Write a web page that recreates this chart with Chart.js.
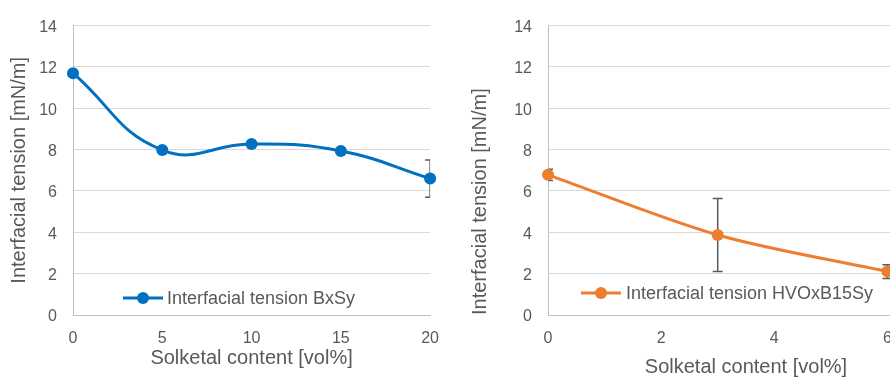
<!DOCTYPE html>
<html>
<head>
<meta charset="utf-8">
<script src="https://cdn.jsdelivr.net/npm/chart.js@4.4.1/dist/chart.umd.min.js"></script>
<style>
  html, body { margin: 0; padding: 0; background: #fff; }
  #wrap { position: relative; width: 890px; height: 377px; overflow: hidden; }
  #c1 { position: absolute; left: 0; top: 0; }
  #c2 { position: absolute; left: 445px; top: 0; }
</style>
</head>
<body>
<div id="wrap">
  <canvas id="c1" width="445" height="377"></canvas>
  <canvas id="c2" width="520" height="377"></canvas>
</div>
<script>
// values
const bxsyX = [0, 5, 10, 15, 20];
const bxsyY = [11.7, 7.98, 8.27, 7.93, 6.6];
const bxsyErr = [0.1, 0.1, 0.1, 0.1, 0.9];

const hvoX = [0, 3, 6];
const hvoY = [6.78, 3.87, 2.1];
const hvoErr = [0.27, 1.77, 0.33];

const yTicks = [0, 2, 4, 6, 8, 10, 12, 14];
const bxsyTicks = [0, 5, 10, 15, 20];
const hvoTicks = [0, 2, 4, 6];

const textColor = "#595959";
const fontFamily = '"Liberation Sans", Arial, sans-serif';

// error bars, drawn under the markers
const errorBars = {
  id: "errorBars",
  beforeDatasetsDraw(chart) {
    const { ctx, chartArea, scales: { x, y } } = chart;
    ctx.save();
    ctx.beginPath();
    ctx.rect(chartArea.left, chartArea.top, chartArea.width, chartArea.height);
    ctx.clip();
    ctx.strokeStyle = textColor;
    ctx.lineWidth = 1.5;
    chart.data.datasets.forEach(ds => {
      (ds.errors || []).forEach((e, i) => {
        const p = ds.data[i];
        const px = x.getPixelForValue(p.x);
        const y1 = y.getPixelForValue(p.y + e);
        const y2 = y.getPixelForValue(p.y - e);
        ctx.beginPath();
        ctx.moveTo(px, y1); ctx.lineTo(px, y2);
        ctx.moveTo(px - 5, y1); ctx.lineTo(px + 5, y1);
        ctx.moveTo(px - 5, y2); ctx.lineTo(px + 5, y2);
        ctx.stroke();
      });
    });
    ctx.restore();
  }
};

// legend sitting inside the plot area
const insideLegend = {
  id: "insideLegend",
  afterDraw(chart, args, opts) {
    const ds = chart.data.datasets[0];
    const { ctx } = chart;
    ctx.save();
    ctx.strokeStyle = ds.borderColor;
    ctx.lineWidth = 3;
    ctx.beginPath();
    ctx.moveTo(opts.x, opts.y);
    ctx.lineTo(opts.x + 40, opts.y);
    ctx.stroke();
    ctx.fillStyle = ds.borderColor;
    ctx.beginPath();
    ctx.arc(opts.x + 20, opts.y, 6, 0, Math.PI * 2);
    ctx.fill();
    ctx.fillStyle = textColor;
    ctx.font = "18px " + fontFamily;
    ctx.textBaseline = "middle";
    ctx.fillText(ds.label, opts.x + opts.gap, opts.y + 1);
    ctx.restore();
  }
};

function makeChart(id, label, color, xs, ys, errs, cfg) {
  return new Chart(document.getElementById(id), {
    type: "line",
    data: {
      datasets: [{
        label: label,
        data: xs.map((v, i) => ({ x: v, y: ys[i] })),
        errors: errs,
        borderColor: color,
        backgroundColor: color,
        borderWidth: 3,
        pointRadius: 6,
        pointBorderWidth: 0,
        tension: cfg.tension,
        clip: false
      }]
    },
    plugins: [errorBars, insideLegend],
    options: {
      responsive: false,
      animation: false,
      layout: { padding: { top: 22, right: cfg.rightPad, left: 0, bottom: 0 } },
      plugins: {
        legend: { display: false },
        tooltip: { enabled: false },
        insideLegend: cfg.legend
      },
      scales: {
        x: {
          type: "linear",
          min: 0,
          max: cfg.xMax,
          afterBuildTicks: s => { s.ticks = cfg.xTicks.map(v => ({ value: v })); },
          afterFit: s => { s.height = 62; },
          grid: { display: false },
          border: { display: true, color: "#bfbfbf", width: 1 },
          ticks: { color: textColor, font: { size: 16, family: fontFamily }, padding: 6, maxRotation: 0 },
          title: {
            display: true,
            text: "Solketal content [vol%]",
            color: textColor,
            font: { size: 20, family: fontFamily, lineHeight: 1 },
            padding: { top: 0, bottom: cfg.xTitlePad }
          }
        },
        y: {
          min: 0,
          max: 14,
          afterBuildTicks: s => { s.ticks = yTicks.map(v => ({ value: v })); },
          afterFit: s => { s.width = cfg.yWidth; },
          grid: { color: "#d9d9d9", drawTicks: false },
          border: { display: true, color: "#bfbfbf", width: 1 },
          ticks: { color: textColor, font: { size: 16, family: fontFamily }, padding: 16, labelOffset: 2 },
          title: {
            display: true,
            text: "Interfacial tension [mN/m]",
            color: textColor,
            align: cfg.yAlign,
            font: { size: 20, family: fontFamily, lineHeight: 1 },
            padding: { top: cfg.yTitlePad, bottom: 0 }
          }
        }
      }
    }
  });
}

makeChart("c1", "Interfacial tension BxSy", "#0070C0", bxsyX, bxsyY, bxsyErr, {
  xMax: 20, xTicks: bxsyTicks, yWidth: 73, yTitlePad: 9, xTitlePad: 9,
  yAlign: "center", rightPad: 11, tension: 0.45,
  legend: { x: 123, y: 298, gap: 44 }
});

makeChart("c2", "Interfacial tension HVOxB15Sy", "#ED7D31", hvoX, hvoY, hvoErr, {
  xMax: 7, xTicks: hvoTicks, yWidth: 103, yTitlePad: 25, xTitlePad: 0,
  yAlign: "start", rightPad: 21, tension: 0.3,
  legend: { x: 136, y: 293, gap: 45 }
});
</script>
</body>
</html>
